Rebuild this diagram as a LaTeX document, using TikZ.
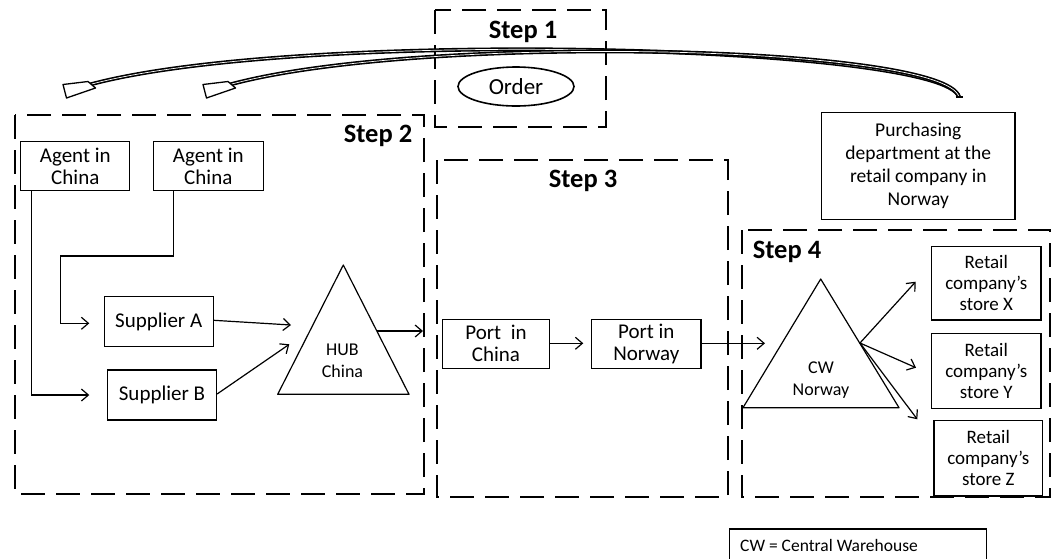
\documentclass[tikz,border=0pt]{standalone}
\usepackage{fontspec}
\setmainfont{Carlito}
\usetikzlibrary{arrows.meta,shapes.geometric}
\begin{document}
\begin{tikzpicture}[x=1pt,y=-1pt,
  box/.style={draw, line width=1.2pt, align=center, inner sep=0pt,
    font=\fontsize{21}{22}\selectfont},
  smallbox/.style={box, font=\fontsize{19}{21}\selectfont},
  stepframe/.style={draw, line width=2.8pt, dash pattern=on 24pt off 11pt},
  steplabel/.style={font=\bfseries\fontsize{26.5}{28}\selectfont},
  shape label/.style={align=center, font=\fontsize{18}{22}\selectfont},
  link/.style={line width=1.2pt,
    -{Straight Barb[length=7pt,width=12pt,line width=1.2pt]}},
  band/.style={line width=1.6pt, double=white, double distance=0.7pt},
  bandhead/.style={draw, fill=white, line width=1.3pt, line join=round},
]
\clip (0,0) rectangle (1053,558);
\fill[white] (0,0) rectangle (1053,558);

% ---- step frames ----
\draw[stepframe] (435,10) rectangle (606,127);
\draw[stepframe] (15,115) rectangle (424,494);
\draw[stepframe] (437,160) rectangle (728,497);
\draw[stepframe] (742,230) rectangle (1050,497);

\node[steplabel] (l1) at (523,32) {Step 1};
\node[steplabel] (l2) at (378,136) {Step 2};
\node[steplabel] (l3) at (583,181) {Step 3};
\node[steplabel] (l4) at (787,252) {Step 4};

% ---- step 1 ----
\node[draw, ellipse, line width=1.6pt, minimum width=116pt, minimum height=39pt,
  inner sep=0pt, font=\fontsize{23}{24}\selectfont] (order) at (516,86.5) {Order};

% ---- step 2 ----
\node[box, minimum width=109pt, minimum height=49pt] (agent1) at (75.3,166.2) {Agent in\\China};
\node[box, minimum width=110pt, minimum height=49pt] (agent2) at (208.3,166.2) {Agent in\\China};
\node[box, minimum width=109pt, minimum height=50pt] (supA) at (158.7,321.7) {Supplier A};
\node[box, minimum width=109pt, minimum height=50pt] (supB) at (162,395) {Supplier B};

\draw[line width=1.2pt, line join=round] (343.3,265) -- (277.7,394.3) -- (409,394.3) -- cycle;
\node[shape label] (hub) at (342.5,361) {HUB\\China};
\coordinate (hubA) at (291,325);
\coordinate (hubB) at (289.3,344.3);
\coordinate (hubR) at (376.5,331);
\coordinate (edge2) at (423,331);

\coordinate (a1turn) at (31.7,395);
\coordinate (a2down) at (173.3,256);
\coordinate (a2left) at (60.7,256);
\coordinate (a2turn) at (60.7,323.3);
\coordinate (supBin) at (89.3,395);
\coordinate (supAin) at (89.3,323.3);

\draw[link] (agent1.south -| a1turn) -- (a1turn) -- (supBin);
\draw[link] (agent2.south -| a2down) -- (a2down) -- (a2left) -- (a2turn) -- (supAin);
\draw[link] (supA.east |- 0,320.3) -- (hubA);
\draw[link] (supB.east |- 0,394) -- (hubB);
\draw[link] (hubR) -- (edge2);

% ---- step 3 ----
\node[box, minimum width=107.7pt, minimum height=49pt] (portC) at (496,343.8) {Port\ \ in\\China};
\node[box, minimum width=109.3pt, minimum height=49pt] (portN) at (646.3,343.8) {Port in\\Norway};
\coordinate (portNin) at (583.3,343.3);
\coordinate (cwIn) at (765,343.3);
\draw[link] (portC.east |- portNin) -- (portNin);
\draw[link] (portN.east |- cwIn) -- (cwIn);

% ---- step 4 ----
\draw[line width=1.2pt, line join=round] (820.7,279) -- (743,407.7) -- (899,407.7) -- cycle;
\node[shape label] (cw) at (821,380) {CW\\Norway};
\coordinate (cwR) at (860,343);
\coordinate (toX) at (915.7,281.7);
\coordinate (toY) at (916,367.7);
\coordinate (toZ) at (917.3,419.3);

\node[smallbox, minimum width=109.3pt, minimum height=73.3pt] (storeX) at (986.3,283.3) {Retail\\company’s\\store X};
\node[smallbox, minimum width=109.3pt, minimum height=75pt] (storeY) at (986.3,370.8) {Retail\\company’s\\store Y};
\node[smallbox, minimum width=108.7pt, minimum height=75.3pt] (storeZ) at (988.3,458.3) {Retail\\company’s\\store Z};

\draw[link] (cwR) -- (toX);
\draw[link] (cwR) -- (toY);
\draw[link] (cwR) -- (toZ);

% ---- purchasing department ----
\node[box, minimum width=193.3pt, minimum height=107pt,
  font=\fontsize{19.5}{23}\selectfont] (purch) at (918.3,165.8)
  {Purchasing\\department at the\\retail company in\\Norway};

% ---- order flow bands ----
\coordinate (bandStart) at (959,97);
\coordinate (endA) at (90,84.5);
\coordinate (endB) at (230,84.5);
\draw[band] (bandStart) .. controls (945,45) and (300,28) .. (endA);
\draw[band] (bandStart) .. controls (945,45) and (420,33) .. (endB);
\draw[line width=1.6pt] (955.5,97) -- (962.5,97);
\draw[bandhead] (63,84.5) -- (66.5,98) -- (95.5,88) -- (88,81.5) -- cycle;
\draw[bandhead] (203,84.5) -- (206.5,98) -- (235.5,88) -- (228,81.5) -- cycle;

% ---- legend ----
\draw[line width=1.2pt] (729.3,529) rectangle (986.7,575);
\node[anchor=west, inner sep=0pt, font=\fontsize{17.5}{20}\selectfont] (legend) at (740,545) {CW = Central Warehouse};
\end{tikzpicture}
\end{document}
